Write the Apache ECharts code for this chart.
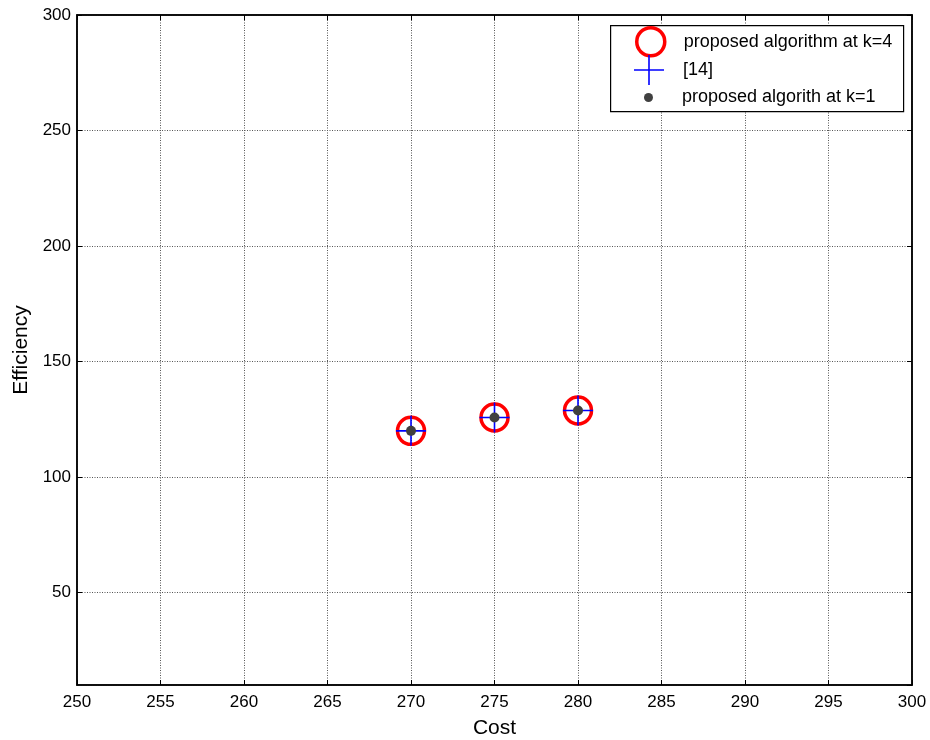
<!DOCTYPE html>
<html>
<head>
<meta charset="utf-8">
<script src="https://cdn.jsdelivr.net/npm/echarts@6/dist/echarts.min.js"></script>
<style>
  html, body { margin: 0; padding: 0; background: #fff; }
  #chart { width: 930px; height: 740px; }
</style>
</head>
<body>
<div id="chart"></div>
<script>
// 数据
var costs = [270, 275, 280];
var effK4 = [120, 125.8, 128.8];
var effRef14 = [120, 125.8, 128.8];
var effK1 = [120, 125.8, 128.8];
var seriesNames = ["proposed algorithm at k=4", "[14]", "proposed algorith at k=1"];

function pairs(xs, ys) {
  return xs.map(function (x, i) { return [x, ys[i]]; });
}

var crossPath = "path://M14.2,0H15.8V30H14.2Z M0,14.2H30V15.8H0Z";
var font = "Liberation Sans, Arial, sans-serif";

var myChart = echarts.init(document.getElementById("chart"));

var axisCommon = {
  axisLine: { lineStyle: { color: "#000", width: 1.5 } },
  axisTick: { inside: true, length: 5, lineStyle: { color: "#000" } },
  splitLine: { show: true, lineStyle: { color: "#555", type: [1, 1.5], width: 1 } }
};

function legendAt(name, top, left, w, h, pad, itemStyle) {
  var lg = {
    data: [name],
    orient: "vertical",
    left: left,
    top: top,
    itemWidth: w,
    itemHeight: h,
    padding: 0,
    selectedMode: false,
    z: 10,
    textStyle: { fontSize: 18, fontFamily: font, color: "#000", padding: [0, 0, 0, pad] }
  };
  if (itemStyle) lg.itemStyle = itemStyle;
  return lg;
}

option = {
  animation: false,
  backgroundColor: "#fff",
  grid: {
    left: 77, right: 18, top: 15, bottom: 55, containLabel: false, outerBoundsMode: "none",
    show: true, borderColor: "#000", borderWidth: 1.5
  },
  xAxis: [
    Object.assign({}, axisCommon, {
      type: "value", min: 250, max: 300, interval: 5,
      name: "Cost", nameLocation: "middle", nameGap: 33,
      nameTextStyle: { fontSize: 21, fontFamily: font, color: "#000" },
      axisLabel: { color: "#000", fontSize: 17, fontFamily: font, margin: 9 }
    }),
    {
      type: "value", position: "top", min: 250, max: 300, interval: 5,
      axisLine: { lineStyle: { color: "#000", width: 1.5 } },
      axisTick: { inside: true, length: 5, lineStyle: { color: "#000" } },
      axisLabel: { show: false }, splitLine: { show: false }
    }
  ],
  yAxis: [
    Object.assign({}, axisCommon, {
      type: "value", min: 10, max: 300, splitNumber: 6,
      name: "Efficiency", nameLocation: "middle", nameGap: 44,
      nameTextStyle: { fontSize: 21, fontFamily: font, color: "#000" },
      axisLabel: { color: "#000", fontSize: 17, fontFamily: font, margin: 6, showMinLabel: false }
    }),
    {
      type: "value", position: "right", min: 10, max: 300, splitNumber: 6,
      axisLine: { lineStyle: { color: "#000", width: 1.5 } },
      axisTick: { inside: true, length: 5, lineStyle: { color: "#000" } },
      axisLabel: { show: false }, splitLine: { show: false }
    }
  ],
  graphic: [
    {
      type: "rect", left: 610, top: 25, z: 5,
      shape: { width: 293, height: 86 },
      style: { fill: "#fff", stroke: "#000", lineWidth: 1.2 }
    }
  ],
  legend: [
    legendAt(seriesNames[0], 26, 635, 28, 28, 14, { borderWidth: 3.5, borderColor: "#ff0000", color: "rgba(0,0,0,0)" }),
    legendAt(seriesNames[1], 55, 634, 30, 30, 14),
    legendAt(seriesNames[2], 88.5, 644, 9, 9, 24)
  ],
  series: [
    {
      name: seriesNames[0], type: "scatter", data: pairs(costs, effK4),
      symbol: "circle", symbolSize: 27,
      itemStyle: { color: "rgba(0,0,0,0)", borderColor: "#ff0000", borderWidth: 3.5, opacity: 1 },
      z: 2
    },
    {
      name: seriesNames[1], type: "scatter", data: pairs(costs, effRef14),
      symbol: crossPath, symbolSize: 30,
      itemStyle: { color: "#0000ff", opacity: 1 },
      z: 3
    },
    {
      name: seriesNames[2], type: "scatter", data: pairs(costs, effK1),
      symbol: "circle", symbolSize: 10,
      itemStyle: { color: "#404040", opacity: 1 },
      z: 4
    }
  ]
};

myChart.setOption(option);
</script>
</body>
</html>
